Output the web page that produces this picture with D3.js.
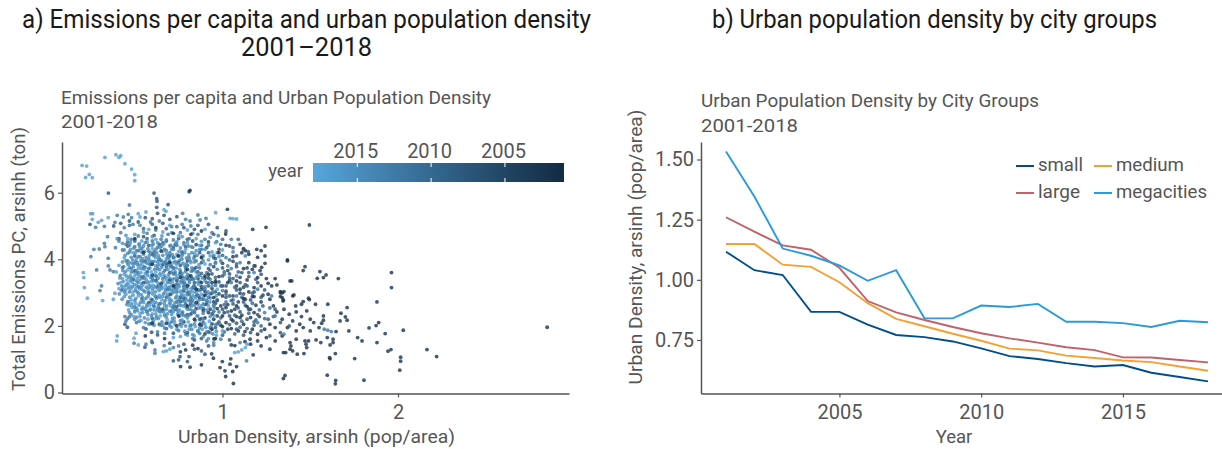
<!DOCTYPE html>
<html><head><meta charset="utf-8">
<script src="https://cdn.jsdelivr.net/npm/d3@7/dist/d3.min.js"></script>
<style>html,body{margin:0;padding:0;background:#fff}svg{display:block}text{font-family:Roboto,sans-serif}</style>
</head><body><svg id="c" width="1222" height="449"></svg>
<script>
const years=[2001,2002,2003,2004,2005,2006,2007,2008,2009,2010,2011,2012,2013,2014,2015,2016,2017,2018];
const small=[1.117,1.04,1.02,.867,.867,.814,.771,.762,.744,.715,.683,.671,.654,.64,.646,.614,.596,.578];
const medium=[1.149,1.149,1.063,1.054,.99,.903,.838,.807,.776,.747,.714,.707,.685,.675,.665,.658,.64,.622];
const large=[1.26,1.2,1.143,1.125,1.05,.912,.865,.833,.804,.778,.757,.739,.72,.708,.678,.677,.667,.657];
const megacities=[1.533,1.346,1.13,1.1,1.06,.996,1.04,.84,.84,.893,.887,.9,.826,.826,.82,.804,.83,.824];
const legendYears=[2015,2010,2005];

// [urban density, emissions per capita], grouped by approximate year
const points2017=[[.2,6.82],[.226,6.8],[.241,6.55],[.22,6.46],[.258,6.45],[.33,7.06],[.393,7.14],[.42,7.11],[.41,7.06],[.444,6.87],[.482,6.71],[.5,6.54],[.5,6.36],[.249,5.37],[.26,5.37],[.258,5.2],[.207,3.6],[.21,3.45],[.213,3.15],[.23,2.83],[.317,2.76],[.4,1.7],[.397,1.55],[.496,1.63],[.52,1.43],[.507,1.78],[.663,1.23],[.68,1.25],[.7,1.3],[.72,1.65],[.76,1.68],[.8,1.72],[.84,1.7],[1.11,1.28],[1.09,1.22],[1.07,1.2],[1.13,1.35],[1.14,1.45],[.387,2.98],[.378,2.8],[.292,5.11],[.311,5.17],[.349,5.25],[.52,5.37],[.564,5.42],[.53,5.27],[1.043,5.23],[1.06,5.22],[1.08,5.21],[.961,5.4],[.667,5.49],[.678,5.44],
[.42,3.3],[.44,3.55],[.41,3.12],[.45,2.95],[.43,3.42],[.47,3.2],[.46,3.68],[.49,3.02],[.48,2.78],[.5,3.5],[.51,3.22],[.47,2.62],[.52,2.9],[.53,3.38],[.5,2.48],[.54,3.1],[.52,3.72],[.55,2.7],[.56,3.58],[.53,2.38],[.58,3.25],[.57,2.86],[.59,3.46],[.6,3.05],[.56,2.5],[.61,2.72],[.62,3.62],[.6,2.36],[.63,3.3],[.64,2.92],[.65,3.52],[.66,3.14],[.62,2.22],[.67,2.6],[.68,3.38],[.66,2.02],[.7,2.82],[.71,3.2],[.69,3.7],[.72,2.42],[.73,3.02],[.74,3.5],[.71,1.96],[.75,2.66],[.76,3.28],[.77,2.18],[.78,2.92],[.79,3.62],[.8,2.5],[.82,3.12],[.81,1.9],[.83,2.72],[.85,3.44],[.86,2.3],[.88,2.95],[.9,2.06],[.92,2.6],[.93,1.8],[.95,2.32],[.97,3.1],
[.44,4.05],[.47,3.9],[.49,4.2],[.51,4.02],[.54,3.86],[.55,4.15],[.58,3.96],[.6,4.32],[.62,4.05],[.64,3.85],[.66,4.24],[.68,4.02],[.7,4.4],[.72,3.9],[.74,4.15],[.77,4.0],[.79,4.3],[.82,3.9],[.84,4.18],[.87,4.42],[.9,3.86],[.93,4.1],[.96,4.5],[1.0,4.28],[.46,4.62],[.5,4.75],[.54,4.55],[.58,4.9],[.62,4.6],[.66,4.82],[.7,5.02],[.75,4.7],[.8,4.88],[.85,4.62],[.9,4.9],
[.395,3.62],[.41,3.82],[.44,3.18],[.455,3.38],[.475,3.52],[.485,3.3],[.505,3.12],[.515,3.42],[.535,3.6],[.545,3.22],[.565,3.4],[.575,3.08],[.595,3.62],[.605,3.22],[.615,2.9],[.635,3.44],[.645,3.1],[.655,2.78],[.675,3.22],[.685,2.95],[.695,3.46],[.705,2.6],[.715,3.32],[.735,2.86],[.745,3.14],[.755,2.48],[.765,2.98],[.785,3.38],[.795,2.78],[.805,3.22],[.825,2.6],[.835,3.02],[.845,2.84],[.865,3.24],[.875,2.54],[.905,2.78],[.625,2.46],[.585,2.62],[.545,2.56],[.505,2.68],[.465,2.48],[.495,2.28],[.535,2.16],[.575,2.2],[.645,2.3],[.685,2.18],[.725,2.24],[.765,1.98],[.805,2.12],[.845,1.98],[.885,1.9],[.925,2.14],[.965,1.72],[1.0,1.85]];

const points2015=[[.415,3.44],[.425,3.2],[.432,3.66],[.44,2.88],[.448,3.08],[.452,3.5],[.46,3.28],[.466,2.72],[.47,3.76],[.478,3.12],[.483,3.44],[.49,2.92],[.494,3.62],[.498,3.24],[.506,2.82],[.51,3.56],[.514,3.02],[.52,3.3],[.524,2.62],[.528,3.82],[.534,3.16],[.538,2.94],[.542,3.48],[.548,2.74],[.552,3.7],[.558,3.02],[.562,3.3],[.568,2.58],[.572,3.52],[.578,2.9],[.582,3.14],[.586,3.74],[.592,2.7],[.596,3.34],[.602,2.96],[.606,3.54],[.61,2.48],[.616,3.18],[.62,3.8],[.624,2.82],[.63,3.42],[.634,2.6],[.638,3.06],[.642,3.68],[.648,2.42],[.652,3.26],[.658,2.88],[.662,3.6],[.668,2.68],[.672,3.02],[.676,3.46],[.68,2.5],[.686,3.14],[.69,3.84],[.696,2.78],[.702,3.3],[.706,2.94],[.71,3.62],[.716,2.54],[.72,3.08],[.726,3.42],[.73,2.7],[.736,3.74],[.74,2.9],[.746,3.24],[.75,2.44],[.756,3.56],[.76,3.04],[.766,2.74],[.77,3.36],[.776,2.6],[.78,3.16],[.786,3.8],[.79,2.84],[.796,3.48],[.802,2.52],[.806,3.02],[.812,3.3],[.818,2.68],[.822,3.64],[.83,2.9],[.836,3.2],[.842,2.46],[.85,3.0],[.856,3.5],[.862,2.76],[.87,3.34],[.878,2.6],[.884,3.12],[.892,2.9],[.9,3.36],[.91,2.48],[.918,3.02],[.928,2.72],[.94,3.2],[.952,2.56],[.964,2.9],
[.43,3.92],[.445,4.12],[.462,3.84],[.476,4.3],[.488,3.98],[.502,4.18],[.516,3.9],[.53,4.36],[.544,4.02],[.556,4.24],[.57,3.88],[.584,4.12],[.598,4.42],[.612,3.94],[.626,4.2],[.64,4.02],[.654,4.4],[.668,3.9],[.682,4.16],[.696,3.98],[.71,4.3],[.724,4.06],[.738,3.86],[.752,4.24],[.766,4.02],[.78,4.44],[.794,3.86],[.808,4.14],[.822,4.38],[.836,4.02],[.85,4.26],[.866,3.84],[.882,4.08],[.9,4.3],[.92,3.98],[.94,4.22],[.96,3.88],[.98,4.08],
[.47,2.4],[.485,2.56],[.5,2.2],[.515,2.46],[.53,2.28],[.545,2.4],[.56,2.1],[.575,2.34],[.59,2.5],[.605,2.14],[.62,2.36],[.635,2.22],[.65,2.02],[.665,2.42],[.68,2.26],[.695,2.08],[.71,2.34],[.725,2.14],[.74,1.9],[.755,2.3],[.77,2.06],[.785,1.84],[.8,2.24],[.815,2.0],[.83,1.74],[.845,2.16],[.86,1.86],[.875,2.08],[.89,1.68],[.905,1.96],[.92,1.62],[.935,1.98],[.95,1.5],[.965,1.84],
[.4,4.62],[.43,4.48],[.45,4.72],[.475,4.5],[.5,4.58],[.525,4.46],[.55,4.82],[.57,4.52],[.6,4.68],[.63,4.5],[.655,4.7],[.68,4.58],[.71,4.8],[.74,4.52],[.77,4.68],[.8,4.5],[.83,4.78],[.88,4.54],[.93,4.66]];

const points2014=[[.405,3.27],[.412,2.96],[.418,3.52],[.423,3.06],[.428,2.8],[.434,3.33],[.437,3.78],[.442,3.01],[.446,3.62],[.45,3.22],[.455,2.64],[.458,3.9],[.463,3.14],[.468,3.46],[.472,2.86],[.475,3.35],[.48,3.62],[.484,2.66],[.487,3.18],[.492,3.78],[.496,3.38],[.5,2.76],[.503,3.06],[.507,3.66],[.511,2.52],[.513,3.34],[.517,3.83],[.521,2.98],[.525,3.5],[.528,3.12],[.532,2.7],[.536,3.72],[.539,3.26],[.543,2.86],[.546,3.94],[.55,3.06],[.553,2.52],[.556,3.42],[.56,3.76],[.563,2.82],[.566,3.16],[.57,2.64],[.573,3.62],[.576,3.32],[.58,2.98],[.583,3.86],[.587,2.48],[.59,3.2],[.593,2.8],[.597,3.52],[.6,3.9],[.603,3.12],[.607,2.62],[.61,3.36],[.613,3.7],[.617,3.02],[.62,2.7],[.623,3.5],[.627,3.14],[.63,2.52],[.633,3.82],[.636,3.24],[.64,2.86],[.643,3.56],[.647,2.68],[.65,3.12],[.653,3.76],[.656,2.46],[.66,3.32],[.663,2.96],[.667,3.9],[.67,3.5],[.673,2.76],[.677,3.1],[.68,3.7],[.683,2.6],[.687,3.3],[.69,2.9],[.693,3.54],[.697,3.16],[.7,2.44],[.703,3.78],[.707,3.08],[.71,2.76],[.713,3.4],[.717,3.0],[.72,3.72],[.723,2.62],[.727,3.22],[.73,3.56],[.733,2.84],[.737,3.1],[.74,2.48],[.743,3.42],[.747,3.9],[.75,2.78],[.753,3.18],[.757,3.7],[.76,2.62],[.763,3.34],[.767,2.9],[.77,3.58],[.773,2.42],[.777,3.08],[.78,3.44],[.783,2.74],[.787,3.26],[.79,3.66],[.793,2.56],[.797,3.12],[.8,2.94],[.803,3.54],[.807,2.76],[.81,3.36],[.815,2.5],[.82,3.02],[.825,3.74],[.83,2.78],[.835,3.4],[.84,2.62],[.845,3.14],[.85,3.62],[.855,2.9],[.86,3.3],[.865,2.54],[.87,3.06],[.88,2.8],[.885,3.44],[.89,2.66],[.9,3.18],[.91,2.98],[.92,3.3],[.93,2.84],[.945,3.04],
[.44,4.28],[.45,3.96],[.46,4.18],[.47,4.42],[.48,4.06],[.485,3.88],[.495,4.34],[.505,3.94],[.51,4.26],[.52,4.08],[.525,4.44],[.535,3.96],[.54,4.22],[.55,4.4],[.56,3.92],[.565,4.06],[.575,4.32],[.58,4.02],[.59,4.2],[.595,3.94],[.605,4.46],[.615,4.14],[.62,4.3],[.63,3.92],[.635,4.1],[.645,4.36],[.65,3.96],[.66,4.12],[.665,4.46],[.675,3.94],[.68,4.26],[.69,4.06],[.7,3.92],[.705,4.42],[.715,4.14],[.72,4.3],[.73,3.94],[.735,4.48],[.745,4.1],[.755,3.96],[.76,4.34],[.77,4.12],[.775,3.88],[.785,4.2],[.795,4.04],[.805,4.4],[.815,3.96],[.825,4.2],[.84,3.92],[.855,4.12],[.87,4.3],[.89,3.96],
[.48,2.34],[.5,2.42],[.51,2.26],[.525,2.14],[.54,2.5],[.555,2.24],[.57,2.44],[.58,2.06],[.595,2.3],[.61,2.02],[.625,2.28],[.64,2.44],[.655,2.12],[.67,1.94],[.685,2.36],[.7,2.0],[.715,2.22],[.73,2.04],[.745,2.36],[.76,2.16],[.775,2.32],[.79,2.0],[.81,2.32],[.825,1.9],[.84,2.06],[.855,2.3],[.87,1.94],[.89,2.2],[.91,1.82],[.93,2.28],[.945,1.76],[.96,2.04]];

const points2012=[[.267,4.3],[.298,4.31],[.25,4.08],[.349,4.03],[.283,3.68],[.349,3.8],[.359,3.68],[.378,3.63],[.311,3.2],[.302,3.06],[.327,4.48],[.33,4.38],[.345,4.68],[.277,4.96],[.327,4.99],[.387,5.11],[.4,5.32],[.435,5.27],[.463,5.35],[.482,5.25],[.47,5.63],[.444,2.28],[.46,2.22],[.45,2.15],[.496,1.48],[.596,1.55],[.564,1.45],[.615,1.28],[.615,1.18],[.668,1.41],[.72,1.35],[.75,1.4],[.86,5.33],[.906,5.23],[.872,5.18],[.773,5.38],[.815,5.15],[.79,5.2],[.976,4.71],[.967,4.53],[.99,4.45],[1.05,4.6],
[.39,4.35],[.41,4.55],[.43,4.28],[.42,4.8],[.45,4.45],[.47,4.22],[.44,4.95],[.48,4.6],[.5,4.38],[.49,5.05],[.52,4.7],[.54,4.32],[.53,5.02],[.56,4.5],[.58,4.24],[.57,4.78],[.6,4.55],[.59,5.12],[.63,4.36],[.62,4.88],[.65,4.6],[.67,4.3],[.64,5.15],[.69,4.75],[.7,4.2],[.72,4.58],[.71,4.98],[.74,4.42],[.76,4.8],[.78,4.5],[.77,5.05],[.81,4.62],[.83,4.36],[.82,5.0],[.86,4.75],[.88,4.3],[.9,4.6],[.92,4.42],[.94,4.8],[.97,4.2],[1.02,4.05],[1.06,4.22],[1.03,3.8],
[.43,3.75],[.46,3.95],[.48,3.72],[.5,3.88],[.52,3.6],[.53,4.08],[.55,3.78],[.57,3.62],[.59,3.85],[.61,4.1],[.63,3.72],[.65,3.96],[.67,3.66],[.69,4.1],[.71,3.8],[.73,3.62],[.75,3.92],[.77,4.18],[.79,3.75],[.81,4.05],[.83,3.66],[.85,3.95],[.87,3.74],[.89,4.1],[.91,3.6],[.93,3.84],[.95,4.12],[.97,3.7],[.99,3.95],[1.01,3.55],[1.05,3.72],[1.08,3.5],
[.43,3.1],[.46,2.72],[.47,3.02],[.49,3.4],[.5,2.58],[.52,3.18],[.54,2.8],[.55,3.48],[.57,2.42],[.58,3.0],[.6,3.42],[.61,2.58],[.63,3.18],[.64,2.66],[.66,3.42],[.67,2.32],[.69,3.08],[.7,2.68],[.72,3.56],[.73,2.5],[.74,3.26],[.76,2.74],[.77,3.48],[.79,2.3],[.8,3.0],[.82,3.4],[.83,2.44],[.84,3.2],[.86,2.66],[.87,3.52],[.89,2.38],[.9,3.12],[.92,2.86],[.93,3.4],[.95,2.62],[.96,3.22],[.98,2.42],[1.0,3.06],[1.02,2.72],[1.05,3.3],[1.08,2.9],
[.47,2.28],[.51,2.1],[.55,1.95],[.59,2.06],[.63,1.82],[.67,1.78],[.71,2.12],[.75,1.86],[.79,1.76],[.83,1.62],[.87,1.78],[.91,1.55],[.95,1.42],[.99,1.6],[1.1,1.5],[1.2,2.1],[1.24,2.4],[1.3,2.3],[1.35,1.75],[1.6,1.87],[1.62,1.83],[1.58,1.9],[1.137,.95],[1.13,4.1],[1.18,3.6],[1.2,3.1],[1.28,2.9],[1.1,3.9]];

const points2009=[[.46,4.52],[.52,4.26],[.57,4.62],[.61,4.22],[.66,4.5],[.7,4.1],[.73,4.44],[.77,4.22],[.8,4.6],[.84,4.08],[.88,4.42],[.92,4.2],[.96,4.02],[1.0,4.12],[1.04,3.98],[1.08,3.86],[.5,3.66],[.54,3.44],[.58,3.72],[.62,3.5],[.65,3.18],[.68,3.78],[.7,3.36],[.72,3.74],[.74,3.02],[.76,3.54],[.78,3.2],[.8,3.82],[.81,2.94],[.83,3.42],[.85,3.76],[.86,3.08],[.88,3.58],[.89,2.8],[.91,3.3],[.93,3.66],[.94,2.98],[.96,3.46],[.97,2.76],[.99,3.2],[1.01,3.62],[1.02,2.96],[1.04,3.44],[1.06,2.78],[1.07,3.16],[1.09,3.62],[1.11,2.86],[1.13,3.24],[1.15,3.6],[1.17,2.98],[1.19,3.4],[.6,2.78],[.64,2.52],[.68,2.86],[.71,2.44],[.74,2.72],[.77,2.38],[.79,2.66],[.82,2.84],[.84,2.4],[.86,2.92],[.88,2.22],[.9,2.64],[.93,2.96],[.95,2.44],[.97,2.78],[.99,2.24],[1.01,2.64],[1.03,2.42],[1.05,2.76],[1.07,2.32],[1.09,2.54],[1.11,2.14],[1.13,2.62],[1.15,2.38],[1.17,2.68],[1.19,2.18],[1.21,2.48],[1.24,2.22],[1.27,2.54],[1.29,2.28],[.82,2.02],[.86,1.84],[.89,2.1],[.93,1.94],[.97,2.06],[1.01,1.82],[1.04,2.04],[1.07,1.76],[1.1,1.96],[1.14,1.92],[1.18,2.12],[1.22,2.0],[.47,5.02],[.55,4.92],[.6,5.05],[.68,4.92],[.74,4.98],[.86,5.02],[.95,4.75],[1.0,4.6],[1.06,4.35],[1.09,4.6]];

const points2007=[[.35,5.99],[.61,5.99],[.625,5.82],[.627,5.74],[.625,5.56],[.667,5.32],[.69,5.64],[.245,5.05],[.458,1.96],[.444,2.05],[.596,1.81],[.63,1.73],[.564,1.91],[.558,1.36],[.6,1.5],[.72,.95],[.758,1.08],[.75,.98],[.8,.93],[.809,1.08],[.84,1.3],[.88,1.25],[.92,1.4],[.78,1.45],[.9,1.15],
[.38,5.0],[.42,5.08],[.47,5.15],[.52,5.12],[.56,5.25],[.6,5.22],[.63,5.38],[.66,5.08],[.7,5.2],[.74,5.28],[.78,4.95],[.84,4.9],[.92,5.05],[.97,4.95],[1.02,4.85],[.41,4.62],[.46,4.4],[.5,4.55],[.55,4.68],[.58,4.42],[.61,4.72],[.64,4.45],[.68,4.55],[.72,4.35],[.75,4.62],[.79,4.38],[.83,4.55],[.87,4.2],[.91,4.35],[.95,4.05],[.98,4.3],[1.04,4.4],[1.08,4.1],[1.12,4.3],[1.147,4.23],[1.1,4.45],
[.5,4.1],[.56,3.95],[.6,4.15],[.64,4.0],[.68,3.88],[.72,4.05],[.76,3.82],[.8,3.95],[.84,3.72],[.88,3.9],[.92,3.72],[.96,3.9],[1.0,3.74],[1.04,3.56],[1.08,3.78],[1.11,3.6],[1.15,3.48],[1.18,3.8],[1.22,3.55],
[.55,3.3],[.6,3.52],[.65,3.28],[.7,3.4],[.73,3.16],[.76,3.62],[.78,3.3],[.81,3.5],[.84,3.3],[.86,3.62],[.88,3.1],[.9,3.44],[.92,3.2],[.94,3.56],[.96,3.02],[.98,3.32],[1.0,3.5],[1.02,3.2],[1.04,2.9],[1.06,3.42],[1.08,3.08],[1.1,3.3],[1.12,2.96],[1.14,3.2],[1.16,2.78],[1.18,3.02],[1.2,3.3],[1.22,2.86],[1.24,3.08],
[.58,2.7],[.62,2.88],[.66,2.5],[.7,2.95],[.74,2.58],[.78,2.82],[.8,2.34],[.82,2.62],[.85,2.9],[.87,2.2],[.89,2.52],[.91,2.76],[.94,2.36],[.96,2.68],[.98,2.12],[1.0,2.5],[1.02,2.86],[1.04,2.3],[1.06,2.66],[1.08,2.08],[1.1,2.42],[1.12,2.72],[1.14,2.2],[1.16,2.5],[1.18,2.02],[1.2,2.34],[1.23,2.6],[1.26,2.2],[1.3,2.5],[1.33,2.1],
[.6,2.22],[.64,2.05],[.68,1.92],[.72,1.78],[.76,2.05],[.8,1.8],[.84,1.58],[.88,1.62],[.92,1.82],[.96,1.95],[1.0,1.72],[1.04,1.58],[1.08,1.9],[1.12,1.72],[1.16,1.8],[1.22,1.85],[1.27,1.7],[1.33,1.8],[1.38,2.0]];

const points2004=[[.78,3.05],[.8,3.42],[.82,2.74],[.83,3.14],[.85,2.52],[.86,3.42],[.87,2.84],[.88,3.18],[.89,2.46],[.9,3.04],[.91,2.66],[.92,3.44],[.93,2.5],[.94,3.12],[.95,2.72],[.96,3.3],[.97,2.3],[.98,2.96],[.99,2.6],[1.0,3.2],[1.01,2.4],[1.02,3.04],[1.03,2.64],[1.04,3.36],[1.05,2.2],[1.06,2.9],[1.07,2.5],[1.08,3.2],[1.09,2.72],[1.1,2.98],[1.11,2.32],[1.12,3.16],[1.13,2.8],[1.15,2.5],[1.17,2.88],[1.19,2.62],[1.21,2.28],[1.23,2.92],[.95,3.78],[1.0,3.88],[1.03,3.66],[1.06,3.94],[1.1,3.46],[1.14,3.74],[.85,4.44],[.92,4.52],[1.02,4.42],[.74,3.36],[.7,3.6],[.66,3.84],[.76,2.86],[.72,2.58],[.62,3.36],[.94,2.06],[.99,2.02],[1.03,1.9],[1.08,2.28],[.88,2.02],[.82,2.36],[.78,2.12]];

const points2002=[[.815,6.07],[.81,6.03],[1.028,5.5],[1.172,4.9],[1.248,4.96],[1.495,5.03],[1.018,4.76],[1.06,4.08],[1.12,4.32],[1.13,4.26],[1.11,4.2],[1.15,4.15],[1.242,4.4],[1.195,4.3],[1.22,4.26],[1.242,4.1],[1.2,4.06],[1.37,3.98],[1.242,3.88],[1.223,3.76],[1.214,3.66],[1.185,3.8],[1.47,3.78],[1.46,3.66],[1.37,3.95],[1.385,3.35],[1.395,3.35],[1.555,3.63],[1.59,3.53],[1.575,3.45],[1.54,3.43],[1.66,3.42],[1.963,3.6],[1.963,3.15],[1.88,2.72],[1.33,2.99],[1.34,2.99],[1.4,2.9],[1.34,2.85],[1.345,2.75],[1.495,2.79],[1.46,2.73],[1.45,2.65],[1.53,2.65],[1.6,2.65],[1.417,2.6],[1.71,2.55],[1.675,2.38],[1.7,2.27],[1.71,2.17],[1.67,2.15],[1.575,2.3],[1.575,2.17],[1.565,2.08],[1.89,2.1],[1.875,2.01],[1.835,1.94],[1.72,1.85],[1.647,1.83],[1.927,1.77],[2.03,1.87],[1.77,1.65],[1.795,1.55],[1.88,1.5],[1.96,1.29],[1.943,1.24],[2.165,1.29],[2.22,1.08],[2.015,1.06],[2.015,.94],[2.01,.67],[2.85,1.96],[1.806,.37],[1.753,1.02],[1.645,.36],[1.643,.26],[1.597,.52],[1.356,.51],[1.347,.42],[1.61,1.05],[1.613,1.01],[1.643,1.17],[1.63,1.6],[1.63,1.5],[1.597,1.65],[1.613,1.43],[1.533,1.58],[1.56,1.5],[1.47,1.55],[1.49,1.55],[1.476,1.45],[1.48,1.35],[1.42,1.6],[1.385,1.5],[1.39,1.4],[1.385,1.3],[1.4,1.25],[1.347,1.2],[1.36,1.2],[1.426,1.15],[1.464,1.17],[1.175,1.13],[.761,.78],[.815,.76],[.88,.83],[.938,1.16],[.948,1.03],[.999,.93],[.986,.75],[1.047,1.01],[1.043,.85],[1.08,.78],[1.014,.65],[1.058,.63],[1.018,.48],[1.062,.27],[1.05,1.43],[1.07,1.41],[1.128,1.53],[1.157,1.6],[1.09,1.85],[1.128,1.83],[.951,1.61],
[1.3,3.42],[1.26,3.28],[1.28,3.2],[1.25,3.42],[1.31,3.23],[1.33,3.03],[1.35,3.03],[1.33,2.88],[1.407,2.93],[1.347,2.78],[1.49,2.83],[1.29,2.6],[1.27,2.8],[1.31,2.42],[1.35,2.5],[1.38,2.35],[1.42,2.42],[1.34,2.2],[1.45,2.28],[1.48,2.45],[1.5,2.2],[1.52,2.1],[1.44,2.05],[1.4,2.15],[1.37,1.95],[1.42,1.85],[1.46,1.95],[1.5,1.85],[1.55,1.95],[1.3,1.95],[1.27,2.05],[1.24,1.9],[1.2,1.75],[1.25,1.65],[1.3,1.55],[1.34,1.7],[1.2,1.55],[1.16,1.45],[1.22,1.4],[1.27,1.3],[1.17,1.9],
[1.15,3.9],[1.17,3.7],[1.2,3.45],[1.12,3.72],[1.08,3.35],[1.14,3.38],[1.18,3.15],[1.22,3.2],[1.1,3.1],[1.15,3.02],[1.12,2.82],[1.18,2.88],[1.22,2.72],[1.26,2.95],[1.08,2.6],[1.14,2.58],[1.18,2.4],[1.1,2.25],[1.05,2.45],[1.02,2.55],[1.0,2.3],[.97,2.52],[.95,2.2],[.92,2.4],[.9,2.24],[.87,2.04],[.84,2.2],[1.06,2.15],[1.02,2.1],[1.0,1.98],[1.05,1.92],[.94,1.9],[.9,1.76],[.83,1.42],[.86,1.32],[.79,1.28],[.96,1.62],[1.12,2.05],[1.16,2.25],[.72,3.2],[.76,3.45],[.8,3.2],[.82,3.5],[.85,3.1],[.88,3.3],[.9,3.5],[.94,3.3],[.98,3.48],[1.0,2.9],[1.03,3.3],[.95,2.85],[.9,2.92],[.85,2.7],[.8,2.6],[.75,2.3],[.7,3.9],[.75,4.1],[.8,3.7],[.88,4.05],[.92,3.55],[.96,3.35],[.6,3.85],[.65,4.25],[.55,4.2],[.5,4.62],[.62,4.95],[.72,4.78],[.82,4.75],[.88,4.85],[.98,4.2],[.68,2.08],[.74,2.0],[.6,2.08],[.56,1.7],[.67,1.62],[.7,1.48],[.76,1.22]];

const ink="#555555";
const svg=d3.select("#c");
const fit=(t,len)=>t.attr("textLength",len).attr("lengthAdjust","spacingAndGlyphs");

// panel titles
fit(svg.append("text").attr("x",306.5).attr("y",28).attr("text-anchor","middle").attr("font-size",25).attr("fill","#1a1a1a").text("a) Emissions per capita and urban population density"),569);
fit(svg.append("text").attr("x",306.5).attr("y",56).attr("text-anchor","middle").attr("font-size",25).attr("fill","#1a1a1a").text("2001–2018"),131);
fit(svg.append("text").attr("x",934.5).attr("y",28).attr("text-anchor","middle").attr("font-size",25).attr("fill","#1a1a1a").text("b) Urban population density by city groups"),445);

function styleAxis(g){
  g.select(".domain").attr("stroke",ink).attr("stroke-width",1.5);
  g.selectAll(".tick line").attr("stroke",ink).attr("stroke-width",1.2);
  g.selectAll(".tick text").attr("fill",ink).attr("font-size",20).style("font-family","Roboto,sans-serif");
}

// ---------- Panel a
const xA=d3.scaleLinear().domain([1,2]).range([222.5,398]);
const yA=d3.scaleLinear().domain([0,6]).range([392.5,192.7]);
const yearColor=d3.scaleLinear().domain([2018,2001]).range(["#56a6dc","#132b43"]).interpolate(d3.interpolateLab);
const groups=[[points2007,2007],[points2009,2009],[points2012,2012],[points2004,2004],[points2014,2014],[points2015,2015],[points2017,2017],[points2002,2002]];
const interleaved=[];
const maxLen=d3.max(groups,g=>g[0].length);
for(let i=0;i<maxLen;i++)groups.forEach(([arr,yr])=>{if(i<arr.length)interleaved.push({x:arr[i][0],y:arr[i][1],year:yr});});
svg.append("g").style("filter","blur(0.45px)").selectAll("circle").data(interleaved).join("circle")
  .attr("cx",d=>xA(d.x)).attr("cy",d=>yA(d.y)).attr("r",1.9)
  .attr("fill",d=>yearColor(d.year)).attr("fill-opacity",.8);

const xAxisA=svg.append("g").attr("transform","translate(0,393.5)").call(d3.axisBottom(xA.copy().domain([xA.invert(62),xA.invert(569)]).range([62,569])).tickValues([1,2]).tickFormat(d3.format("d")).tickSize(4).tickSizeOuter(0).tickPadding(7));
styleAxis(xAxisA);
const yAxisA=svg.append("g").attr("transform","translate(62,0)").call(d3.axisLeft(yA.copy().domain([yA.invert(393.5),yA.invert(142)]).range([393.5,142])).tickValues([0,2,4,6]).tickSize(4).tickSizeOuter(0).tickPadding(3));
styleAxis(yAxisA);
fit(svg.append("text").attr("x",316.5).attr("y",443).attr("text-anchor","middle").attr("font-size",18.5).attr("fill",ink).text("Urban Density, arsinh (pop/area)"),277);
fit(svg.append("text").attr("transform","translate(25,259) rotate(-90)").attr("text-anchor","middle").attr("font-size",18.5).attr("fill",ink).text("Total Emissions PC, arsinh (ton)"),264);
fit(svg.append("text").attr("x",61).attr("y",104).attr("font-size",19).attr("fill",ink).text("Emissions per capita and Urban Population Density"),430);
fit(svg.append("text").attr("x",61).attr("y",128).attr("font-size",19).attr("fill",ink).text("2001-2018"),97);

// legend
const lx=d3.scaleLinear().domain([2018,2001]).range([313,564]);
const grad=svg.append("defs").append("linearGradient").attr("id","yg");
d3.range(0,1.01,.1).forEach(t=>grad.append("stop").attr("offset",t).attr("stop-color",yearColor(2018-17*t)));
svg.append("rect").attr("x",313).attr("y",163).attr("width",251).attr("height",19).attr("fill","url(#yg)");
legendYears.forEach(y=>{
  svg.append("line").attr("x1",lx(y)).attr("x2",lx(y)).attr("y1",163).attr("y2",167).attr("stroke","#fff");
  svg.append("line").attr("x1",lx(y)).attr("x2",lx(y)).attr("y1",178).attr("y2",182).attr("stroke","#fff");
  svg.append("text").attr("x",lx(y)-1.5).attr("y",158).attr("text-anchor","middle").attr("font-size",20).attr("fill",ink).text(y);
});
svg.append("text").attr("x",303).attr("y",177).attr("text-anchor","end").attr("font-size",18.5).attr("fill",ink).text("year");

// ---------- Panel b
const xB=d3.scaleLinear().domain([2001,2018]).range([726,1208]);
const yB=d3.scaleLinear().domain([.75,1.5]).range([340,159.5]);
const series=[{name:"small",v:small,c:"#004f8c"},{name:"medium",v:medium,c:"#f5a033"},{name:"large",v:large,c:"#c0626a"},{name:"megacities",v:megacities,c:"#2b9ad8"}];
const line=d3.line().x((d,i)=>xB(years[i])).y(d=>yB(d));
svg.append("g").selectAll("path").data(series).join("path").attr("d",d=>line(d.v)).attr("fill","none").attr("stroke",d=>d.c).attr("stroke-width",1.9);
const xAxisB=svg.append("g").attr("transform","translate(0,393.5)").call(d3.axisBottom(xB.copy().domain([xB.invert(701),xB.invert(1222)]).range([701,1222])).tickValues([2005,2010,2015]).tickFormat(d3.format("d")).tickSize(4).tickSizeOuter(0).tickPadding(7));
styleAxis(xAxisB);
const yAxisB=svg.append("g").attr("transform","translate(701,0)").call(d3.axisLeft(yB.copy().domain([yB.invert(393.5),yB.invert(142)]).range([393.5,142])).tickValues([.75,1,1.25,1.5]).tickFormat(d3.format(".2f")).tickSize(4).tickSizeOuter(0).tickPadding(3));
styleAxis(yAxisB);
svg.append("text").attr("x",954).attr("y",443).attr("text-anchor","middle").attr("font-size",18.5).attr("fill",ink).text("Year");
fit(svg.append("text").attr("transform","translate(642,247) rotate(-90)").attr("text-anchor","middle").attr("font-size",18.5).attr("fill",ink).text("Urban Density, arsinh (pop/area)"),275);
fit(svg.append("text").attr("x",701).attr("y",107).attr("font-size",19).attr("fill",ink).text("Urban Population Density by City Groups"),338);
fit(svg.append("text").attr("x",701).attr("y",132).attr("font-size",19).attr("fill",ink).text("2001-2018"),97);

// line legend
const keyPos=[[1016,166],[1094,166],[1016,193],[1094,193]];
const keyWidths=[45,68,42,91];
series.forEach((s,i)=>{
  const [kx,ky]=keyPos[i];
  svg.append("line").attr("x1",kx).attr("x2",kx+18).attr("y1",ky).attr("y2",ky).attr("stroke",s.c).attr("stroke-width",2);
  fit(svg.append("text").attr("x",kx+22).attr("y",ky+5).attr("font-size",19).attr("fill",ink).text(s.name),keyWidths[i]);
});
</script></body></html>
